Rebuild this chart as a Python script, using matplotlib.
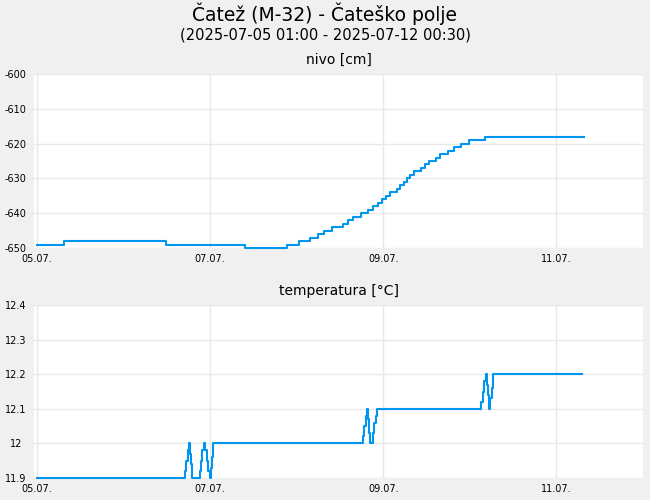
import pandas as pd
import matplotlib
matplotlib.use("Agg")
import matplotlib.pyplot as plt
import matplotlib.dates as mdates
from matplotlib.ticker import FuncFormatter

START = pd.Timestamp("2025-07-05 00:00")

# nivo [cm]: hours from 05.07. 00:00 where a new level starts, and the level
level_hours = [0, 7.5, 35.8, 57.7, 69.4, 72.7, 75.7, 78.0, 79.6, 81.8, 84.9,
               86.3, 87.7, 89.9, 91.8, 93.2, 94.6, 95.7, 96.8, 97.9, 99.9,
               100.7, 101.8, 102.7, 103.5, 104.6, 106.5, 107.7, 108.8, 110.7,
               111.8, 114.0, 115.7, 117.6, 119.9, 124.3, 151.5]
level_values = [-649, -648, -649, -650, -649, -648, -647, -646, -645, -644,
                -643, -642, -641, -640, -639, -638, -637, -636, -635, -634,
                -633, -632, -631, -630, -629, -628, -627, -626, -625, -624,
                -623, -622, -621, -620, -619, -618, -618]

# temperatura [°C]
temp_hours = [0, 41.0, 41.4, 41.8, 42.1, 42.4, 42.7, 43.0,
              45.1, 45.5, 45.9, 46.3, 46.7, 47.1, 47.5, 47.9, 48.2, 48.5, 48.8,
              90.4, 90.8, 91.1, 91.4, 91.7, 92.0, 92.4, 93.1, 93.5, 93.9, 94.3,
              123.2, 123.6, 124.0, 124.4, 124.7, 125.0, 125.3, 125.7, 126.0,
              126.4, 151.2]
temp_values = [11.9, 11.92, 11.95, 11.98, 12.0, 11.97, 11.94, 11.9,
               11.92, 11.95, 11.98, 12.0, 11.98, 11.95, 11.92, 11.9, 11.93, 11.96, 12.0,
               12.02, 12.05, 12.08, 12.1, 12.07, 12.03, 12.0, 12.03, 12.06, 12.08, 12.1,
               12.12, 12.15, 12.18, 12.2, 12.17, 12.14, 12.1, 12.13, 12.16,
               12.2, 12.2]

level_ticks = [-650, -640, -630, -620, -610, -600]
temp_ticks = [11.9, 12.0, 12.1, 12.2, 12.3, 12.4]

title = "Čatež (M-32) - Čateško polje"
subtitle = "(2025-07-05 01:00 - 2025-07-12 00:30)"

BG = "#f0f0f0"
LINE = "#0096f0"
GRID = "#e8e8e8"

fig = plt.figure(figsize=(6.5, 5), dpi=100, facecolor=BG)
ax1 = fig.add_axes([0.0523, 0.504, 0.937, 0.348])
ax2 = fig.add_axes([0.0523, 0.044, 0.937, 0.346])

fig.text(0.5, 0.972, title, ha="center", va="center", fontsize=13.5)
fig.text(0.5, 0.931, subtitle, ha="center", va="center", fontsize=10.5)


def to_time(hours):
    return [START + pd.Timedelta(hours=h) for h in hours]


def style(ax, ylim, yticks, label):
    ax.set_facecolor("white")
    for s in ax.spines.values():
        s.set_visible(False)
    ax.set_xlim(START - pd.Timedelta(hours=0.8), START + pd.Timedelta(hours=168))
    ax.set_ylim(*ylim)
    ax.set_yticks(yticks)
    ax.yaxis.set_major_formatter(FuncFormatter(lambda v, p: f"{v:g}"))
    ax.xaxis.set_major_locator(mdates.DayLocator(interval=2))
    ax.xaxis.set_major_formatter(mdates.DateFormatter("%d.%m."))
    ax.tick_params(axis="both", length=0, labelsize=7)
    ax.tick_params(axis="y", pad=13)
    for t in ax.get_yticklabels():
        t.set_ha("center")
    ax.tick_params(axis="x", pad=4)
    ax.grid(True, color=GRID, linewidth=1)
    ax.set_axisbelow(True)
    ax.set_title(label, fontsize=10, pad=7)


ax1.plot(to_time(level_hours), level_values, drawstyle="steps-post",
         color=LINE, linewidth=1.5, clip_on=False)
style(ax1, (-650, -600), level_ticks, "nivo [cm]")

ax2.plot(to_time(temp_hours), temp_values, drawstyle="steps-post",
         color=LINE, linewidth=1.5, clip_on=False)
style(ax2, (11.9, 12.4), temp_ticks, "temperatura [°C]")

fig.savefig("out.png", dpi=100, facecolor=BG)
